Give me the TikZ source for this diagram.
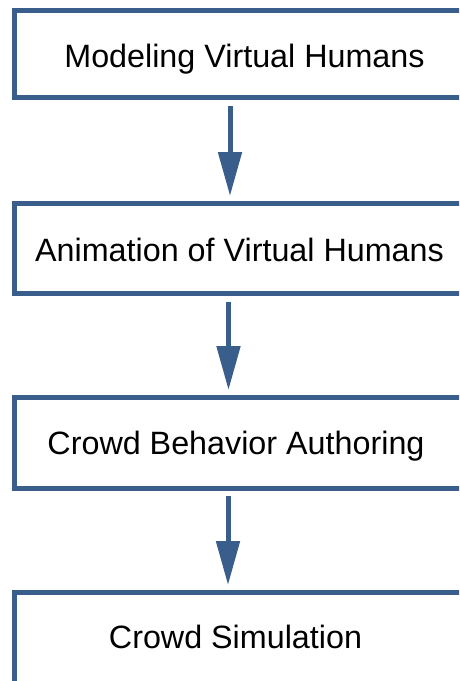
\documentclass[tikz,border=0pt]{standalone}
\usepackage{fontspec}
\setmainfont{Liberation Sans}
\usetikzlibrary{arrows.meta}
\definecolor{boxblue}{RGB}{58,94,140}
\tikzset{
  stagebox/.style={draw=boxblue, line width=5pt, fill=white, rectangle, inner sep=0pt},
  stagetext/.style={anchor=base, inner sep=0pt, font=\fontsize{32.3pt}{38pt}\selectfont, text=black},
  flowarrow/.style={draw=boxblue, line width=5pt, -{Triangle[length=44pt,width=23pt]}}
}
\begin{document}
\begin{tikzpicture}[x=1pt,y=-1pt]
\useasboundingbox (0,0) rectangle (459,681);
\fill[white] (0,0) rectangle (459,681);
\clip (0,0) rectangle (459,681);
% boxes (right side runs off the picture)
\node[stagebox, minimum width=465.5pt, minimum height=87.5pt] (b1) at (247.25,53.75) {};
\node[stagebox, minimum width=465.5pt, minimum height=90pt] (b2) at (247.25,248.5) {};
\node[stagebox, minimum width=465.5pt, minimum height=91pt] (b3) at (247.25,443) {};
\node[stagebox, minimum width=465.5pt, minimum height=140pt] (b4) at (247.25,662.5) {};
% texts
\node[stagetext] (t1) at (244.5,67) {Modeling Virtual Humans};
\node[stagetext] (t2) at (239.5,261) {Animation of Virtual Humans};
\node[stagetext] (t3) at (236,454) {Crowd Behavior Authoring};
\node[stagetext] (t4) at (235.5,648) {Crowd Simulation};
% arrow columns
\coordinate (c1) at (230,0);
\coordinate (c2) at (228.5,0);
\coordinate (c3) at (228,0);
\draw[flowarrow, shorten <=6pt, shorten >=5pt] (b1.south -| c1) -- (b2.north -| c1);
\draw[flowarrow, shorten <=5.5pt, shorten >=5pt] (b2.south -| c2) -- (b3.north -| c2);
\draw[flowarrow, shorten <=5pt, shorten >=5pt] (b3.south -| c3) -- (b4.north -| c3);
\end{tikzpicture}
\end{document}
